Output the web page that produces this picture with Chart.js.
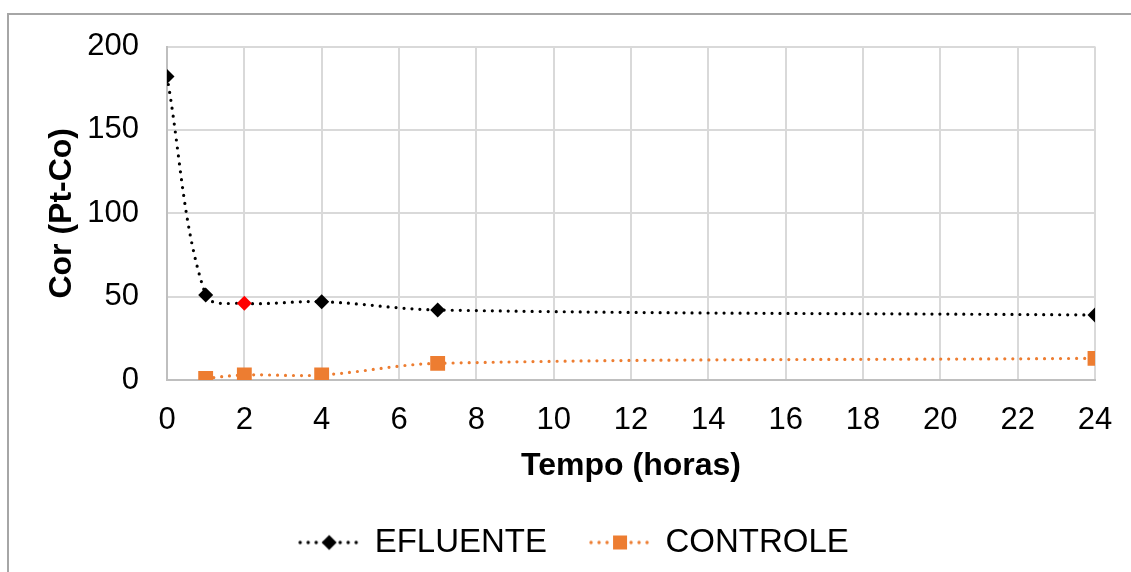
<!DOCTYPE html>
<html>
<head>
<meta charset="utf-8">
<script src="https://cdn.jsdelivr.net/npm/chart.js@4/dist/chart.umd.min.js"></script>
<style>
	html, body { margin: 0; padding: 0; background: #fff; }
	#wrap { width: 1131px; height: 572px; }
</style>
</head>
<body>
<div id="wrap"><canvas id="line-chartcanvas" width="1131" height="572"></canvas></div>
<script>
// measurement times (hours)
var tempoEfluente = [0, 1, 2, 4, 7, 24];
var corEfluente = [182, 51, 46, 47, 42, 39];
var tempoControle = [1, 2, 4, 7, 24];
var corControle = [1, 3, 3, 10, 13];
var xTicks = [0, 2, 4, 6, 8, 10, 12, 14, 16, 18, 20, 22, 24];
var yTicks = [0, 50, 100, 150, 200];

var FONT = "'Liberation Sans', Arial, sans-serif";

function pairs(xs, ys) {
	return xs.map(function(x, i) { return { x: x, y: ys[i] }; });
}

// little legend symbol: dotted line with the marker in the middle
function legendSymbol(color, shape) {
	var c = document.createElement('canvas');
	c.width = 64; c.height = 22;
	var g = c.getContext('2d');
	g.fillStyle = color;
	for (var x = 3; x < 62; x += 8) {
		g.beginPath(); g.arc(x, 11, 1.7, 0, Math.PI * 2); g.fill();
	}
	g.beginPath();
	if (shape === 'diamond') {
		g.moveTo(32, 3.5); g.lineTo(39.5, 11); g.lineTo(32, 18.5); g.lineTo(24.5, 11);
	} else {
		g.rect(25, 4, 14, 14);
	}
	g.closePath(); g.fill();
	return c;
}

var symbols = [legendSymbol('#000000', 'diamond'), legendSymbol('#ed7d31', 'square')];

// grey frame around the whole chart
var frame = {
	id: 'frame',
	beforeDraw: function(chart) {
		var c = chart.ctx;
		c.save();
		c.fillStyle = '#fff';
		c.fillRect(0, 0, chart.width, chart.height);
		c.strokeStyle = '#a6a6a6';
		c.lineWidth = 2;
		c.beginPath();
		c.moveTo(8, chart.height + 2);
		c.lineTo(8, 14);
		c.lineTo(chart.width + 2, 14);
		c.stroke();
		c.restore();
	}
};

var ctx = document.getElementById('line-chartcanvas');

var data = {
	datasets: [
		{
			label: 'EFLUENTE',
			data: pairs(tempoEfluente, corEfluente),
			borderColor: '#000000',
			backgroundColor: '#000000',
			borderWidth: 3.2,
			borderDash: [0, 8],
			borderCapStyle: 'round',
			tension: 0.35,
			pointStyle: 'rectRot',
			pointRadius: 7.5,
			pointHoverRadius: 7.5,
			pointBorderWidth: 0,
			pointBackgroundColor: ['#000', '#000', '#ff0000', '#000', '#000', '#000'],
			fill: false
		},
		{
			label: 'CONTROLE',
			data: pairs(tempoControle, corControle),
			borderColor: '#ed7d31',
			backgroundColor: '#ed7d31',
			borderWidth: 3.2,
			borderDash: [0, 8],
			borderCapStyle: 'round',
			tension: 0.35,
			pointStyle: 'rect',
			pointRadius: 10.5,
			pointHoverRadius: 10.5,
			pointBorderWidth: 0,
			fill: false
		}
	]
};

var options = {
	responsive: false,
	animation: false,
	layout: { padding: { left: 54, right: 36, top: 33, bottom: 3 } },
	plugins: {
		tooltip: { enabled: false },
		legend: {
			position: 'bottom',
			labels: {
				usePointStyle: true,
				pointStyleWidth: 58,
				padding: 44,
				color: '#000',
				font: { family: FONT, size: 33 },
				generateLabels: function(chart) {
					return chart.data.datasets.map(function(ds, i) {
						return {
							text: ds.label,
							pointStyle: symbols[i],
							fillStyle: ds.borderColor,
							strokeStyle: ds.borderColor,
							lineWidth: 0,
							fontColor: '#000',
							datasetIndex: i
						};
					});
				}
			}
		}
	},
	scales: {
		x: {
			type: 'linear',
			min: 0,
			max: 24,
			afterBuildTicks: function(scale) {
				scale.ticks = xTicks.map(function(v) { return { value: v }; });
			},
			afterFit: function(scale) {
				scale.height = 102;
				scale.paddingLeft = 0;
				scale.paddingRight = 0;
			},
			grid: { color: '#d9d9d9', lineWidth: 2, drawTicks: false },
			border: { color: '#bfbfbf', width: 2 },
			ticks: { color: '#000', padding: 22, maxRotation: 0, font: { family: FONT, size: 31 } },
			title: {
				display: true,
				text: 'Tempo (horas)',
				color: '#000',
				padding: { top: 0, bottom: -3 },
				font: { family: FONT, size: 32, weight: 'bold' }
			}
		},
		y: {
			min: 0,
			max: 200,
			afterBuildTicks: function(scale) {
				scale.ticks = yTicks.map(function(v) { return { value: v }; });
			},
			afterFit: function(scale) { scale.width = 113; },
			grid: { color: '#d9d9d9', lineWidth: 2, drawTicks: false },
			border: { color: '#bfbfbf', width: 2 },
			ticks: { color: '#000', padding: 28, font: { family: FONT, size: 31 } },
			title: {
				display: true,
				text: 'Cor (Pt-Co)',
				color: '#000',
				padding: { top: -11, bottom: 0 },
				font: { family: FONT, size: 32, weight: 'bold' }
			}
		}
	}
};

var chart = new Chart(ctx, {
	type: 'line',
	data: data,
	options: options,
	plugins: [frame]
});
</script>
</body>
</html>
